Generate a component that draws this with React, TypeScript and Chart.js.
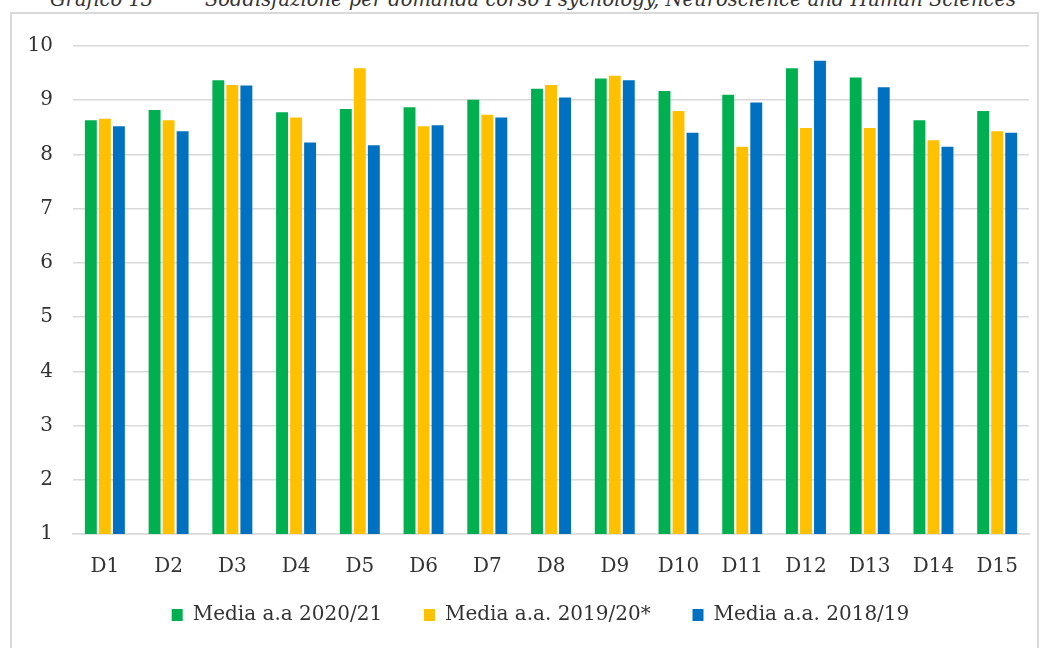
import React, { useEffect, useRef } from "react";
import { Chart, registerables } from "chart.js";

Chart.register(...registerables);

const categories = ["D1", "D2", "D3", "D4", "D5", "D6", "D7", "D8", "D9", "D10", "D11", "D12", "D13", "D14", "D15"];
const media2021 = [8.63, 8.82, 9.37, 8.78, 8.84, 8.87, 9.01, 9.21, 9.40, 9.17, 9.10, 9.59, 9.42, 8.63, 8.80];
const media1920 = [8.66, 8.63, 9.28, 8.68, 9.59, 8.52, 8.73, 9.28, 9.45, 8.80, 8.14, 8.49, 8.49, 8.26, 8.43];
const media1819 = [8.52, 8.43, 9.27, 8.22, 8.17, 8.54, 8.68, 9.05, 9.37, 8.40, 8.96, 9.73, 9.24, 8.14, 8.40];
const seriesLabels = ["Media a.a 2020/21", "Media a.a. 2019/20*", "Media a.a. 2018/19"];
const yTicks = [1, 2, 3, 4, 5, 6, 7, 8, 9, 10];

const FONT = "'DejaVu Serif', serif";

const legendShift = {
  id: "legendShift",
  afterLayout(chart: any) {
    if (chart.legend) {
      chart.legend.left += 16;
      chart.legend.right += 16;
    }
  },
};

export default function App() {
  const ref = useRef<HTMLCanvasElement | null>(null);

  useEffect(() => {
    if (!ref.current) return;
    const chart = new Chart(ref.current, {
      type: "bar",
      data: {
        labels: categories,
        datasets: [
          { label: seriesLabels[0], data: media2021, backgroundColor: "#00B050" },
          { label: seriesLabels[1], data: media1920, backgroundColor: "#FFC000" },
          { label: seriesLabels[2], data: media1819, backgroundColor: "#0070C0" },
        ],
      },
      plugins: [legendShift],
      options: {
        animation: false,
        responsive: false,
        maintainAspectRatio: false,
        layout: { padding: { top: 28, right: 2, bottom: 13, left: 0 } },
        datasets: {
          bar: { categoryPercentage: 0.66, barPercentage: 0.85 },
        },
        plugins: {
          title: { display: false },
          tooltip: { enabled: false },
          legend: {
            position: "bottom",
            labels: {
              boxWidth: 11,
              boxHeight: 12,
              padding: 10,
              color: "#333333",
              font: { family: FONT, size: 20 },
              generateLabels: (c: any) =>
                Chart.defaults.plugins.legend.labels
                  .generateLabels(c)
                  .map((l: any, i: number) => ({ ...l, text: i < 2 ? l.text + "\u00A0".repeat(5) : l.text })),
            },
          },
        },
        scales: {
          x: {
            grid: { display: false, drawTicks: false },
            border: { display: true, color: "#d9d9d9", width: 1.5 },
            ticks: { color: "#333333", padding: 21, font: { family: FONT, size: 20 } },
            afterFit: (axis: any) => { axis.height = 61; },
          },
          y: {
            min: 1,
            max: 10,
            afterBuildTicks: (axis: any) => { axis.ticks = yTicks.map((v) => ({ value: v })); },
            grid: { color: "#d9d9d9", lineWidth: 1.5, drawTicks: false },
            border: { display: false },
            ticks: { color: "#333333", padding: 20, font: { family: FONT, size: 20 } },
            afterFit: (axis: any) => { axis.width = 61; },
          },
        },
      },
    });
    return () => chart.destroy();
  }, []);

  return (
    <div style={{ position: "fixed", left: 0, top: 0, width: 1051, height: 648, overflow: "hidden", background: "#fff" }}>
      <div style={{ position: "absolute", top: -10, left: 0, width: 1051, height: 30, fontFamily: FONT, fontStyle: "italic", fontSize: 19.5, lineHeight: "20px", color: "#333333", whiteSpace: "nowrap" }}>
        <span style={{ position: "absolute", left: 50 }}>Grafico 13</span>
        <span style={{ position: "absolute", left: 205 }}>Soddisfazione per domanda corso Psychology, Neuroscience and Human Sciences</span>
      </div>
      <div style={{ position: "absolute", left: 10, top: 12, width: 1029, height: 660, border: "2px solid #d9d9d9", boxSizing: "border-box" }} />
      <div style={{ position: "absolute", left: 12, top: 14, width: 1027, height: 634 }}>
        <canvas ref={ref} width={1027} height={634} style={{ width: 1027, height: 634 }} />
      </div>
    </div>
  );
}
